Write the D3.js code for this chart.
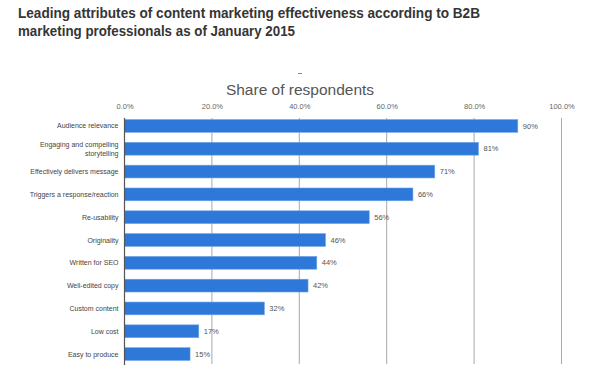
<!DOCTYPE html>
<html><head><meta charset="utf-8">
<script src="https://cdnjs.cloudflare.com/ajax/libs/d3/7.8.5/d3.min.js"></script>
<style>body{margin:0;background:#fff}svg{display:block}</style>
</head><body><svg id="c" width="600" height="380"></svg>
<script>
const categories = ["Audience relevance", "Engaging and compelling\nstorytelling", "Effectively delivers message", "Triggers a response/reaction", "Re-usability", "Originality", "Written for SEO", "Well-edited copy", "Custom content", "Low cost", "Easy to produce"];
const values = [90, 81, 71, 66, 56, 46, 44, 42, 32, 17, 15];
const tickValues = [0, 20, 40, 60, 80, 100];

const svg = d3.select("#c");
const font = "'Liberation Sans', Arial, sans-serif";

// title
const title = svg.append("g").attr("font-family", font).attr("font-weight", "bold").attr("fill", "#353535").attr("font-size", 15.5);
title.append("text").attr("x", 18).attr("y", 17.5).attr("textLength", 462).attr("lengthAdjust", "spacingAndGlyphs")
  .text("Leading attributes of content marketing effectiveness according to B2B");
title.append("text").attr("x", 18).attr("y", 35.5).attr("textLength", 277).attr("lengthAdjust", "spacingAndGlyphs")
  .text("marketing professionals as of January 2015");

const x = d3.scaleLinear().domain([0, 100]).range([124.5, 561.5]);
const y = d3.scaleBand().domain(categories).range([115, 365]).paddingInner(0.44).paddingOuter(0.2);

// axis title
svg.append("line").attr("x1", 298).attr("x2", 302).attr("y1", 73.5).attr("y2", 73.5).attr("stroke", "#888");
svg.append("text").attr("x", 300).attr("y", 95).attr("text-anchor", "middle").attr("font-family", font)
  .attr("font-size", 15.5).attr("fill", "#555").text("Share of respondents");

// grid
const gridTop = 118, gridBottom = 364;
svg.append("g").selectAll("line").data(tickValues.slice(1)).join("line")
  .attr("x1", d => x(d)).attr("x2", d => x(d)).attr("y1", gridTop).attr("y2", gridBottom)
  .attr("stroke", "#a8a8a8").attr("stroke-width", 1);

// top axis labels
const axis = d3.axisTop(x).tickValues(tickValues).tickFormat(d => d.toFixed(1) + "%").tickSize(0).tickPadding(0);
const ag = svg.append("g").attr("transform", "translate(0,109)").call(axis);
ag.select(".domain").remove();
ag.selectAll("text").attr("font-family", font).attr("font-size", 7.5).attr("fill", "#666");

// bars
svg.append("g").selectAll("rect").data(values).join("rect")
  .attr("x", x(0)).attr("y", (d, i) => y(categories[i]))
  .attr("width", d => x(d) - x(0)).attr("height", y.bandwidth())
  .attr("fill", "#2d78d8").attr("stroke", "#6ea3e8").attr("stroke-width", 0.6);

// value labels
svg.append("g").selectAll("text").data(values).join("text")
  .attr("x", d => x(d) + 5).attr("y", (d, i) => y(categories[i]) + y.bandwidth() / 2 + 2.6)
  .attr("font-family", font).attr("font-size", 7.5).attr("fill", "#555").text(d => d + "%");

// category labels
const cl = svg.append("g").attr("font-family", font).attr("font-size", 7).attr("fill", "#444").attr("text-anchor", "end");
categories.forEach(c => {
  const lines = c.split("\n");
  const cy = y(c) + y.bandwidth() / 2;
  const t = cl.append("text").attr("x", 118.5).attr("y", cy + 2.5 - (lines.length - 1) * 4.5);
  lines.forEach((l, j) => t.append("tspan").attr("x", 118.5).attr("dy", j ? 9 : 0).text(l));
});

// left axis line
svg.append("line").attr("x1", x(0)).attr("x2", x(0)).attr("y1", gridTop).attr("y2", gridBottom + 1)
  .attr("stroke", "#555").attr("stroke-width", 1.2);
</script></body></html>
